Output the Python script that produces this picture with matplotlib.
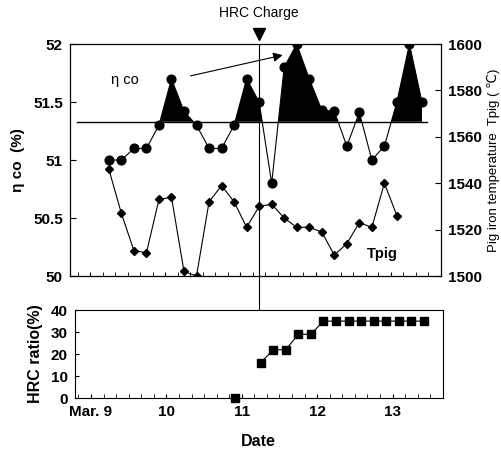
import numpy as np
import matplotlib
matplotlib.use("Agg")
from matplotlib import pyplot as plt

# sampling times, hours after Mar. 9 00:00 (every 4 h)
hours = [6, 10, 14, 18, 22, 26, 30, 34, 38, 42, 46, 50, 54,
         58, 62, 66, 70, 74, 78, 82, 86, 90, 94, 98, 102, 106]

eta_co = [51.0, 51.0, 51.1, 51.1, 51.3, 51.7, 51.42, 51.3, 51.1, 51.1,
          51.3, 51.7, 51.5, 50.8, 51.8, 52.0, 51.7, 51.43, 51.42, 51.12,
          51.41, 51.0, 51.12, 51.5, 52.0, 51.5]

tpig = [1546, 1527, 1511, 1510, 1533, 1534, 1502, 1500, 1532, 1539,
        1532, 1521, 1530, 1531, 1525, 1521, 1521, 1519, 1509, 1514,
        1523, 1521, 1540, 1526]

hrc_ratio = [None, None, None, None, None, None, None, None, None, None,
             0, None, 16, 22, 22, 29, 29, 35, 35, 35,
             35, 35, 35, 35, 35, 35]

eta_ref = 51.33
hrc_charge = 11.25
day_ticks = [9, 10, 11, 12, 13]
day_labels = ["Mar. 9", "10", "11", "12", "13"]

t = 9 + np.array(hours) / 24.0
eta = np.array(eta_co)
hrc = np.array([np.nan if v is None else v for v in hrc_ratio])

plt.rcParams["font.family"] = ["Liberation Sans", "DejaVu Sans"]
tick_font = dict(fontweight="bold", fontsize=11)
xlim = (8.73, 13.64)

fig = plt.figure(figsize=(5.02, 4.54), dpi=100)
ax = fig.add_axes([0.139, 0.392, 0.739, 0.511])
ax2 = ax.twinx()
axb = fig.add_axes([0.149, 0.123, 0.733, 0.194])

# upper panel: eta co
ax.set_xlim(xlim)
ax.set_ylim(50, 52)
ax.fill_between(t, eta, eta_ref, where=eta >= eta_ref, interpolate=True,
                color="black", lw=0)
ax.plot([8.83, 13.48], [eta_ref, eta_ref], color="black", lw=1)
ax.plot(t, eta, "-o", color="black", lw=0.8, ms=6.3)
ax.set_yticks([50, 50.5, 51, 51.5, 52])
ax.set_yticklabels(["50", "50.5", "51", "51.5", "52"], **tick_font)
ax.set_xticks(day_ticks)
ax.set_xticks(9 + np.arange(-1, 29) / 6.0, minor=True)
ax.tick_params(axis="x", which="both", direction="in", length=3,
               labelbottom=False)
ax.tick_params(axis="y", direction="in", length=4, pad=5)
ax.set_ylabel("\u03b7 co  (%)", fontweight="bold", fontsize=11, labelpad=6)

ax.text(9.46, 51.69, "\u03b7 co", fontsize=10.5, ha="center", va="center")
ax.annotate("", xy=(11.6, 51.91), xytext=(10.3, 51.72),
            arrowprops=dict(arrowstyle="-|>", color="black", lw=0.8,
                            mutation_scale=14))

# upper panel: pig iron temperature
ax2.set_ylim(1500, 1600)
ax2.plot(t[:len(tpig)], tpig, "-D", color="black", lw=0.8, ms=4.3)
ax2.set_yticks(range(1500, 1601, 20))
ax2.set_yticklabels([str(v) for v in range(1500, 1601, 20)], **tick_font)
ax2.tick_params(axis="y", direction="in", length=4, pad=5)
ax2.set_ylabel("Pig iron temperature  Tpig ( \u2103)", fontsize=9.5,
               labelpad=4)
ax2.text(12.89, 1509.5, "Tpig", fontsize=10.5, ha="center", va="center",
         fontweight="bold")

# HRC charge marker
trans = ax.get_xaxis_transform()
ax.plot([hrc_charge, hrc_charge], [-0.526, 1.0], transform=trans,
        color="black", lw=0.8, clip_on=False)
ax.plot([hrc_charge], [1.045], marker="v", color="black", ms=8,
        transform=trans, clip_on=False)
ax.text(hrc_charge, 1.135, "HRC Charge", transform=trans, ha="center",
        va="center", fontsize=10)

# lower panel: HRC ratio
axb.set_xlim(xlim[0] + 0.055, xlim[1] + 0.025)
axb.set_ylim(0, 40)
axb.plot(t, hrc, "-s", color="black", lw=0.8, ms=6, clip_on=False)
axb.set_yticks([0, 10, 20, 30, 40])
axb.set_yticklabels(["0", "10", "20", "30", "40"], **tick_font)
axb.set_xticks(day_ticks)
axb.set_xticklabels(day_labels, **tick_font)
axb.set_xticks(9 + np.arange(-1, 29) / 6.0, minor=True)
axb.tick_params(axis="x", which="both", direction="in", length=3, pad=5)
axb.tick_params(axis="y", direction="in", length=3, pad=5)
axb.set_ylabel("HRC ratio(%)", fontweight="bold", fontsize=11.5, labelpad=6)
axb.set_xlabel("Date", fontweight="bold", fontsize=11.5, labelpad=11)

plt.savefig("out.png", dpi=100)
